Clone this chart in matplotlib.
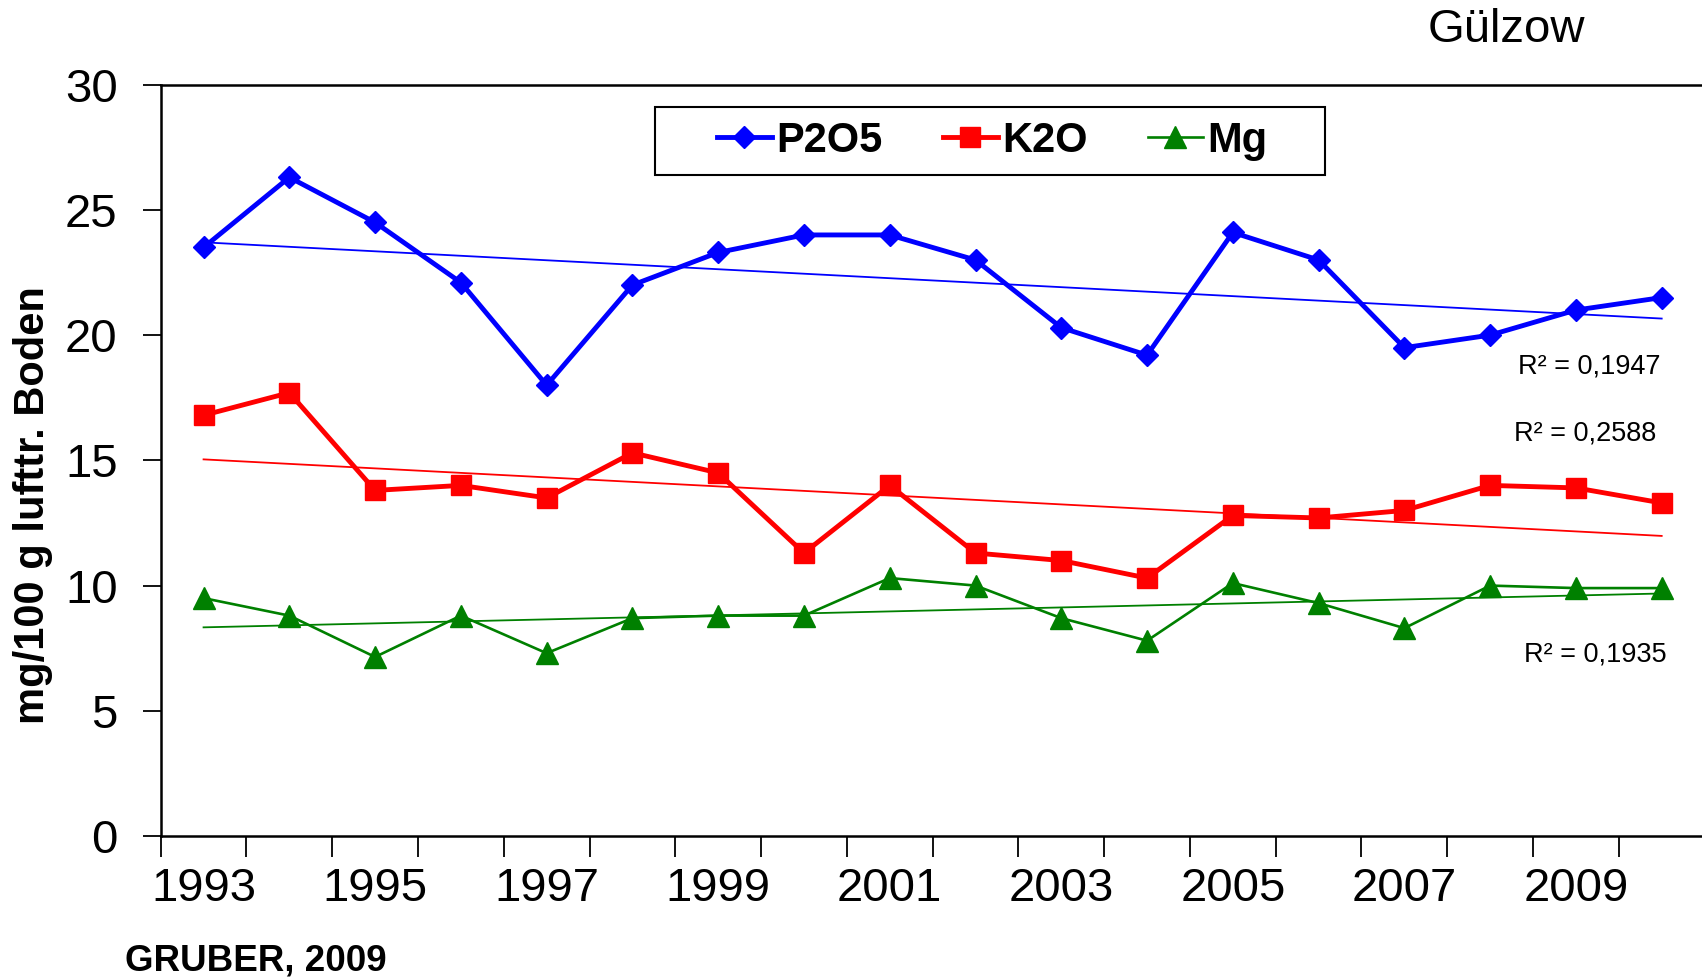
import numpy as np
import matplotlib
matplotlib.use("Agg")
import matplotlib.pyplot as plt
from matplotlib.patches import Rectangle

# values (mg/100 g lufttr. Boden)
years = list(range(1993, 2011))
p2o5 = [23.5, 26.3, 24.5, 22.1, 18.0, 22.0, 23.3, 24.0, 24.0, 23.0,
        20.3, 19.2, 24.1, 23.0, 19.5, 20.0, 21.0, 21.5]
k2o = [16.8, 17.7, 13.8, 14.0, 13.5, 15.3, 14.5, 11.3, 14.0, 11.3,
       11.0, 10.3, 12.8, 12.7, 13.0, 14.0, 13.9, 13.3]
mg = [9.5, 8.8, 7.15, 8.8, 7.3, 8.7, 8.8, 8.8, 10.3, 10.0,
      8.7, 7.8, 10.1, 9.3, 8.3, 10.0, 9.9, 9.9]
r2_labels = ["R² = 0,1947", "R² = 0,2588", "R² = 0,1935"]

plt.rcParams['font.family'] = ['Liberation Sans', 'DejaVu Sans']

fig = plt.figure(figsize=(17.02, 9.8), dpi=100)
ax = fig.add_axes([0.0944, 0.1469, 0.9056, 0.7667])
x = np.arange(len(years))

series = [
    (p2o5, '#0000ff', 'D', 11.5, 3.5, 'P2O5'),
    (k2o, '#ff0000', 's', 15, 3.5, 'K2O'),
    (mg, '#008000', '^', 16.5, 1.9, 'Mg'),
]

handles = []
for vals, col, mk, ms, lw, name in series:
    # linear trend line like in excel
    coef = np.polyfit(x, vals, 1)
    ends = x[[0, -1]]
    ax.plot(ends, np.polyval(coef, ends), color=col, lw=1.3, zorder=2)
    h, = ax.plot(x, vals, color=col, lw=lw, marker=mk, ms=ms,
                 markeredgecolor=col, label=name, zorder=3)
    handles.append(h)

ax.set_xlim(-0.47, 17.47)
ax.set_ylim(0, 30)
ax.set_yticks(range(0, 31, 5))
ax.set_xticks(x[::2])
ax.set_xticklabels([str(y) for y in years[::2]])
ax.set_xticks(np.arange(-0.5, 17.5, 1), minor=True)
ax.tick_params(axis='x', which='major', length=0, pad=22, labelsize=34)
ax.tick_params(axis='x', which='minor', length=15, width=1.3, direction='out')
ax.tick_params(axis='y', length=13, width=1.3, pad=18, labelsize=34)
ax.spines['right'].set_visible(False)
for s in ['left', 'bottom', 'top']:
    ax.spines[s].set_linewidth(1.8)

ax.set_ylabel('mg/100 g lufttr. Boden', fontsize=30, fontweight='bold')
ax.yaxis.set_label_coords(-0.07, 0.44)

# R² labels of the trend lines
ax.text(16.16, 18.73, r2_labels[0], ha='center', va='center', fontsize=19.5)
ax.text(16.11, 16.09, r2_labels[1], ha='center', va='center', fontsize=19.5)
ax.text(16.23, 7.23, r2_labels[2], ha='center', va='center', fontsize=19.5)

leg = ax.legend(handles=handles, loc='center', ncol=3, frameon=False,
                bbox_to_anchor=(992 / 1702, 1 - 141 / 980),
                bbox_transform=fig.transFigure,
                prop={'size': 30, 'weight': 'bold'},
                handlelength=1.32, handletextpad=0.1, columnspacing=1.45,
                numpoints=1)
fig.add_artist(Rectangle((655 / 1702, 1 - 175 / 980), 670 / 1702, 68 / 980,
                         transform=fig.transFigure, fill=False,
                         lw=1.5, ec='black'))

fig.text(1506 / 1702, 1 - 30 / 980, 'Gülzow', ha='center', va='center',
         fontsize=34)
fig.text(125 / 1702, 1 - 961 / 980, 'GRUBER, 2009', ha='left', va='center',
         fontsize=26.5, fontweight='bold')

fig.savefig('out.png', dpi=100)
